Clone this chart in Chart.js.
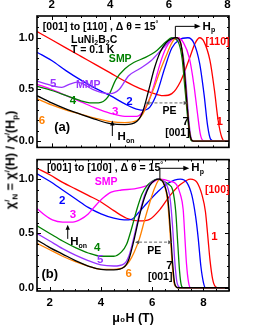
<!DOCTYPE html>
<html><head><meta charset="utf-8">
<script src="https://cdn.jsdelivr.net/npm/chart.js@4.4.1/dist/chart.umd.min.js"></script>
<style>
html,body{margin:0;padding:0;background:#fff;}
#wrap{position:relative;width:255px;height:330px;overflow:hidden;background:#fff;}
#ca{position:absolute;left:0;top:0;}
#cb{position:absolute;left:0;top:150px;}
#ytitle{position:absolute;left:11px;top:160px;transform:translate(-50%,-50%) rotate(-90deg);white-space:nowrap;font:bold 12.5px "Liberation Sans",Arial,sans-serif;color:#000;}
#ytitle sup{font-size:8px;vertical-align:5px;}
#ytitle sub{font-size:8px;vertical-align:-3px;}
</style></head>
<body>
<div id="wrap">
<canvas id="ca" width="255" height="157"></canvas>
<canvas id="cb" width="255" height="180"></canvas>
<div id="ytitle">χ<sup>/</sup><sub>N</sub> = χ<sup>/</sup>(H) / χ<sup>/</sup>(H<sub>p</sub>)</div>
</div>
<script>
// ---------- tick labels ----------
const xTicksA = [2, 4, 6, 8];
const xTicksB = [2, 4, 6, 8];
const yTicks = [0, 0.5, 1.0];

// ---------- panel (a): [001] to [110] ----------
const fieldA1 = [1.5,2,2.5,3,3.5,4,4.5,5,5.4,5.8,6.1,6.4,6.7,6.9,7.05,7.2,7.4,7.55,7.68,7.8,7.9,8.05];
const chiA1   = [1.06,0.98,0.9,0.82,0.74,0.66,0.58,0.51,0.47,0.44,0.46,0.58,0.8,0.95,1.0,0.96,0.78,0.5,0.2,0.04,0.0,0];
const fieldA2 = [1.5,2,2.5,3,3.5,4,4.5,4.8,5.1,5.35,5.6,5.85,6.1,6.35,6.65,6.85,7.05,7.2,7.32,7.42,7.55,8.05];
const chiA2   = [0.86,0.78,0.68,0.59,0.51,0.44,0.36,0.32,0.30,0.33,0.47,0.7,0.9,0.98,1.0,0.95,0.75,0.45,0.15,0.02,0,0];
const fieldA3 = [1.5,2,2.5,3,3.5,4,4.5,4.9,5.1,5.3,5.5,5.7,5.9,6.1,6.3,6.5,6.7,6.85,6.97,7.07,7.15,7.3,8.05];
const chiA3   = [0.55,0.5,0.44,0.38,0.32,0.27,0.24,0.24,0.28,0.38,0.55,0.75,0.9,0.98,1.0,0.95,0.8,0.55,0.28,0.07,0.01,0,0];
const fieldA4 = [1.5,2,2.5,3,3.3,3.6,3.9,4.2,4.5,4.8,5.2,5.6,5.9,6.1,6.3,6.45,6.55,6.65,6.72,6.8,8.05];
const chiA4   = [0.53,0.49,0.44,0.39,0.37,0.37,0.42,0.6,0.7,0.76,0.81,0.88,0.96,1.0,0.97,0.8,0.5,0.2,0.04,0,0];
const fieldA5 = [1.5,1.8,2.1,2.35,2.6,2.87,3.1,3.4,3.7,4.0,4.3,4.62,5.0,5.4,5.8,6.2,6.35,6.5,6.6,6.68,6.75,6.82,8.05];
const chiA5   = [0.58,0.555,0.53,0.52,0.55,0.57,0.55,0.5,0.47,0.46,0.5,0.63,0.7,0.78,0.9,1.0,0.97,0.8,0.5,0.2,0.04,0,0];
const fieldA6 = [1.5,2,2.5,3,3.5,4,4.5,4.9,5.1,5.3,5.5,5.7,5.9,6.1,6.25,6.4,6.52,6.62,6.7,6.78,6.9,8.05];
const chiA6   = [0.41,0.35,0.3,0.26,0.22,0.19,0.18,0.2,0.26,0.38,0.52,0.68,0.82,0.95,1.0,0.95,0.7,0.35,0.1,0.01,0,0];
const fieldA7 = [1.5,2,2.5,3,3.5,4,4.5,4.9,5.1,5.3,5.5,5.7,5.9,6.1,6.25,6.4,6.52,6.62,6.7,6.78,6.9,8.05];
const chiA7   = [0.44,0.37,0.31,0.26,0.21,0.17,0.16,0.19,0.28,0.48,0.7,0.86,0.95,0.99,1.0,0.95,0.7,0.35,0.1,0.01,0,0];

// ---------- panel (b): [001] to [100] ----------
const fieldB1 = [1.5,2,2.5,3,3.5,4,4.5,5,5.5,5.9,6.3,6.7,7.1,7.5,7.75,7.95,8.08,8.17,8.26,8.36,8.47,8.6,9];
const chiB1   = [1.1,1.04,0.97,0.91,0.85,0.79,0.71,0.64,0.615,0.63,0.72,0.85,0.95,1.0,0.97,0.85,0.7,0.48,0.25,0.08,0.01,0,0];
const fieldB2 = [1.5,2,2.5,3,3.5,4,4.5,4.9,5.2,5.5,5.8,6.2,6.6,7.1,7.35,7.55,7.7,7.8,7.9,8.0,8.08,9];
const chiB2   = [1.05,0.98,0.9,0.82,0.74,0.68,0.64,0.625,0.63,0.7,0.78,0.88,0.96,1.0,0.97,0.85,0.65,0.45,0.2,0.05,0,0];
const fieldB3 = [1.5,1.8,2.1,2.5,2.9,3.2,3.5,3.8,4.1,4.4,4.8,5.3,5.8,6.3,6.7,6.95,7.1,7.21,7.28,7.34,7.42,7.5,9];
const chiB3   = [0.73,0.67,0.625,0.605,0.605,0.63,0.68,0.76,0.83,0.88,0.9,0.91,0.94,1.0,0.98,0.95,0.86,0.72,0.45,0.22,0.05,0,0];
const fieldB4 = [1.5,2,2.5,3,3.5,4,4.5,4.8,5.0,5.2,5.4,5.6,5.8,6.0,6.2,6.45,6.65,6.8,6.92,7.0,7.07,7.13,7.2,9];
const chiB4   = [0.57,0.5,0.43,0.37,0.32,0.29,0.29,0.33,0.4,0.55,0.72,0.86,0.94,0.98,1.0,0.98,0.95,0.9,0.7,0.4,0.15,0.03,0,0];
const fieldB5 = [1.5,2,2.5,3,3.5,4,4.5,4.9,5.1,5.3,5.5,5.7,5.9,6.1,6.25,6.5,6.7,6.8,6.88,6.96,7.03,7.1,9];
const chiB5   = [0.5,0.43,0.36,0.3,0.25,0.21,0.2,0.22,0.3,0.48,0.68,0.85,0.95,0.99,1.0,0.97,0.82,0.55,0.25,0.06,0.01,0,0];
const fieldB6 = [1.5,2,2.5,3,3.5,4,4.5,4.9,5.1,5.3,5.5,5.7,5.9,6.1,6.3,6.45,6.6,6.7,6.78,6.85,6.92,7.0,9];
const chiB6   = [0.41,0.35,0.29,0.24,0.2,0.17,0.17,0.19,0.24,0.33,0.45,0.62,0.78,0.92,1.0,0.96,0.8,0.5,0.22,0.05,0.01,0,0];
const fieldB7 = [1.5,2,2.5,3,3.5,4,4.5,4.9,5.1,5.3,5.5,5.7,5.9,6.1,6.25,6.45,6.62,6.72,6.8,6.87,6.93,7.0,9];
const chiB7   = [0.44,0.37,0.31,0.25,0.2,0.17,0.165,0.19,0.27,0.45,0.66,0.83,0.94,0.99,1.0,0.96,0.8,0.5,0.22,0.05,0.01,0,0];

const RED='#ff0000', BLUE='#0000ff', MAG='#ff00ff', GRN='#008000', PUR='#9933ff', ORG='#ff8000', BLK='#000000';
const FONT='"Liberation Sans", Arial, sans-serif';

function series(xs, ys, color){
  return {data: xs.map((x,i)=>({x:x, y:ys[i]})), borderColor: color, borderWidth: 1.3,
          pointRadius: 0, fill: false, cubicInterpolationMode: 'monotone'};
}

function drawParts(ctx, parts, x, y, color, size, align){
  const base = 'bold ' + size + 'px ' + FONT;
  const small = 'bold ' + Math.round(size*0.65) + 'px ' + FONT;
  let w = 0;
  const ws = parts.map(p => { ctx.font = p[1] ? small : base; const m = ctx.measureText(p[0]).width; w += m; return m; });
  let cx = align === 'center' ? x - w/2 : (align === 'right' ? x - w : x);
  ctx.fillStyle = color; ctx.textBaseline = 'middle'; ctx.textAlign = 'left';
  parts.forEach((p,i) => {
    ctx.font = p[1] ? small : base;
    let dy = 0;
    if (p[1] === 'sub') dy = size*0.35;
    if (p[1] === 'sup') dy = -size*0.35;
    ctx.fillText(p[0], cx, y + dy);
    cx += ws[i];
  });
}

function arrowHead(ctx, x1, y1, x2, y2, len, wid, color){
  const ang = Math.atan2(y2-y1, x2-x1);
  ctx.fillStyle = color;
  ctx.beginPath();
  ctx.moveTo(x2, y2);
  ctx.lineTo(x2 - len*Math.cos(ang) + wid*Math.sin(ang), y2 - len*Math.sin(ang) - wid*Math.cos(ang));
  ctx.lineTo(x2 - len*Math.cos(ang) - wid*Math.sin(ang), y2 - len*Math.sin(ang) + wid*Math.cos(ang));
  ctx.closePath(); ctx.fill();
}

function makePlugin(ann){
  return {
    id: 'decor',
    afterDatasetsDraw(chart){
      const ctx = chart.ctx, a = chart.chartArea, xs = chart.scales.x, ys = chart.scales.y;
      const X = v => xs.getPixelForValue(v), Y = v => ys.getPixelForValue(v);
      ctx.save();
      ctx.strokeStyle = '#000'; ctx.lineWidth = 1;
      for (let k = Math.ceil(xs.min/0.5 - 1e-9); k*0.5 <= xs.max + 1e-9; k++){
        const px = Math.round(X(k*0.5)) + 0.5, L = (k % 4 === 0) ? 4 : 2;
        ctx.beginPath(); ctx.moveTo(px, a.bottom); ctx.lineTo(px, a.bottom - L);
        ctx.moveTo(px, a.top); ctx.lineTo(px, a.top + L); ctx.stroke();
      }
      for (let k = Math.ceil(ys.min/0.1 - 1e-9); k*0.1 <= ys.max + 1e-9; k++){
        const py = Math.round(Y(k*0.1)) + 0.5, L = (k % 5 === 0) ? 4 : 2;
        ctx.beginPath(); ctx.moveTo(a.left, py); ctx.lineTo(a.left + L, py);
        ctx.moveTo(a.right, py); ctx.lineTo(a.right - L, py); ctx.stroke();
      }
      ctx.lineWidth = 1.6;
      ctx.strokeRect(a.left, a.top, a.right - a.left, a.bottom - a.top);
      const hp = ann.hp;
      ctx.lineWidth = 1; ctx.strokeStyle = '#000';
      ctx.beginPath(); ctx.moveTo(X(hp.x), Y(1.0)); ctx.lineTo(X(hp.x), Y(hp.y)); ctx.lineTo(X(hp.x2) - 5, Y(hp.y)); ctx.stroke();
      arrowHead(ctx, X(hp.x), Y(hp.y), X(hp.x2), Y(hp.y), 6, 2.5, '#000');
      const on = ann.on;
      ctx.beginPath(); ctx.moveTo(X(on.x), Y(on.y1)); ctx.lineTo(X(on.x), Y(on.y2) + 4); ctx.stroke();
      arrowHead(ctx, X(on.x), Y(on.y1), X(on.x), Y(on.y2), 5, 2.2, '#000');
      const pe = ann.pe;
      ctx.strokeStyle = '#666'; ctx.setLineDash([3,2]);
      ctx.beginPath(); ctx.moveTo(X(pe.x1) + 4, Y(pe.y)); ctx.lineTo(X(pe.x2) - 4, Y(pe.y)); ctx.stroke();
      ctx.setLineDash([]);
      arrowHead(ctx, X(pe.x2), Y(pe.y), X(pe.x1), Y(pe.y), 4, 2, '#555');
      arrowHead(ctx, X(pe.x1), Y(pe.y), X(pe.x2), Y(pe.y), 4, 2, '#555');
      ann.texts.forEach(t => drawParts(ctx, t.p, X(t.x), Y(t.y), t.c || '#000', t.s || 10.5, t.a || 'center'));
      ctx.restore();
    }
  };
}

const annA = {
  hp: {x: 6.22, y: 1.11, x2: 7.08},
  on: {x: 4.07, y1: 0.05, y2: 0.2},
  pe: {x1: 5.2, x2: 6.64, y: 0.37},
  texts: [
    {x:1.7, y:1.1, p:[['[001] to [110] , Δ θ = 15'],['°','sup']], a:'left'},
    {x:3.45, y:0.98, p:[['LuNi'],['2','sub'],['B'],['2','sub'],['C']]},
    {x:3.4, y:0.88, p:[['T = 0.1 K']]},
    {x:7.15, y:1.11, p:[['H'],['p','sub']], a:'left', s:11.5},
    {x:7.66, y:0.96, p:[['[110]']], c:RED},
    {x:7.73, y:0.19, p:[['1']], c:RED, s:11.5},
    {x:6.57, y:0.19, p:[['7']], s:11.5},
    {x:6.29, y:0.08, p:[['[001]']]},
    {x:6.02, y:0.29, p:[['PE']]},
    {x:4.34, y:0.79, p:[['SMP']], c:GRN},
    {x:3.25, y:0.54, p:[['MMP']], c:PUR},
    {x:2.05, y:0.55, p:[['5']], c:PUR, s:11.5},
    {x:2.73, y:0.39, p:[['4']], c:GRN, s:11.5},
    {x:4.17, y:0.28, p:[['3']], c:MAG, s:11.5},
    {x:4.65, y:0.38, p:[['2']], c:BLUE, s:11.5},
    {x:1.67, y:0.2, p:[['6']], c:ORG, s:11.5},
    {x:2.36, y:0.13, p:[['(a)']], s:13},
    {x:4.25, y:0.04, p:[['H'],['on','sub']], a:'left', s:11.5}
  ]
};
const annB = {
  hp: {x: 6.3, y: 1.1, x2: 7.45},
  on: {x: 2.7, y1: 0.45, y2: 0.58},
  pe: {x1: 5.33, x2: 6.78, y: 0.42},
  texts: [
    {x:1.89, y:1.1, p:[['[001] to [100] , Δ θ = 15'],['°','sup']], a:'left'},
    {x:7.53, y:1.1, p:[['H'],['p','sub']], a:'left', s:11.5},
    {x:8.54, y:0.9, p:[['[100]']], c:RED},
    {x:8.43, y:0.47, p:[['1']], c:RED, s:11.5},
    {x:6.08, y:0.34, p:[['PE']]},
    {x:6.67, y:0.2, p:[['7']], s:11.5},
    {x:6.31, y:0.1, p:[['[001]']]},
    {x:4.2, y:0.97, p:[['SMP']], c:MAG},
    {x:2.48, y:0.8, p:[['2']], c:BLUE, s:11.5},
    {x:2.9, y:0.67, p:[['3']], c:MAG, s:11.5},
    {x:2.8, y:0.42, p:[['H'],['on','sub']], a:'left', s:11.5},
    {x:3.85, y:0.37, p:[['4']], c:GRN, s:11.5},
    {x:3.97, y:0.26, p:[['5']], c:PUR, s:11.5},
    {x:5.08, y:0.13, p:[['6']], c:ORG, s:11.5},
    {x:2.0, y:0.12, p:[['(b)']], s:13}
  ]
};

function baseOptions(xMin, xMax, yMin, yMax, xTicks, xPos, pad){
  return {
    responsive: false, animation: false, events: [],
    layout: {padding: pad},
    plugins: {legend: {display: false}, tooltip: {enabled: false}},
    scales: {
      x: {type: 'linear', position: xPos, min: xMin, max: xMax,
          grid: {display: false, drawTicks: false}, border: {display: false},
          ticks: {color: '#000', padding: xPos === 'top' ? 4 : 5, font: {family: FONT, size: 11.5, weight: 'bold'}},
          afterBuildTicks: s => { s.ticks = xTicks.map(v => ({value: v})); },
          title: xPos === 'bottom' ? {display: true, text: 'μ₀H (T)', color: '#000', font: {family: FONT, size: 12.5, weight: 'bold'}, padding: {top: 0, bottom: 4}} : {display: false},
          afterFit: s => { s.height = xPos === 'top' ? 16 : 39; }},
      y: {type: 'linear', min: yMin, max: yMax,
          grid: {display: false, drawTicks: false}, border: {display: false},
          ticks: {color: '#000', padding: 3, font: {family: FONT, size: 11, weight: 'bold'}, callback: v => Number(v).toFixed(1)},
          afterBuildTicks: s => { s.ticks = yTicks.map(v => ({value: v})); },
          afterFit: s => { s.width = 37; }}
    }
  };
}

new Chart(document.getElementById('ca'), {
  type: 'line',
  data: {datasets: [
    series(fieldA7, chiA7, BLK), series(fieldA6, chiA6, ORG), series(fieldA5, chiA5, PUR),
    series(fieldA4, chiA4, GRN), series(fieldA3, chiA3, MAG), series(fieldA2, chiA2, BLUE), series(fieldA1, chiA1, RED)
  ]},
  options: baseOptions(1.5, 8.05, -0.06, 1.21, xTicksA, 'top', {left: 0, right: 26, top: 0, bottom: 1}),
  plugins: [makePlugin(annA)]
});

new Chart(document.getElementById('cb'), {
  type: 'line',
  data: {datasets: [
    series(fieldB7, chiB7, BLK), series(fieldB6, chiB6, ORG), series(fieldB5, chiB5, PUR),
    series(fieldB4, chiB4, GRN), series(fieldB3, chiB3, MAG), series(fieldB2, chiB2, BLUE), series(fieldB1, chiB1, RED)
  ]},
  options: baseOptions(1.5, 9, -0.03, 1.18, xTicksB, 'bottom', {left: 0, right: 26, top: 7, bottom: 0}),
  plugins: [makePlugin(annB)]
});
</script>
</body></html>
